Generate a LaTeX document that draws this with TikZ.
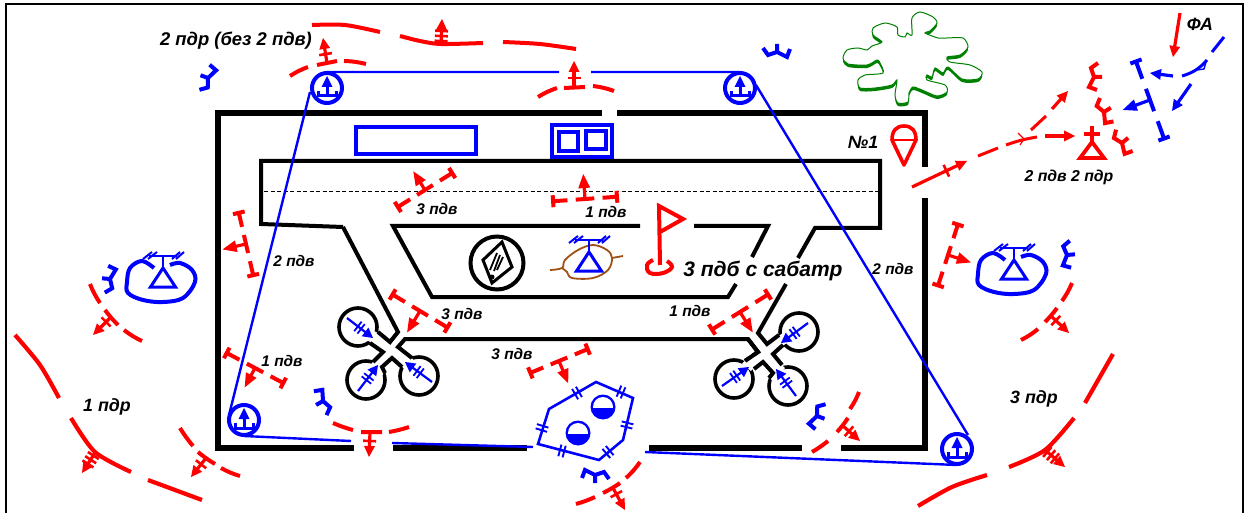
\documentclass[tikz,border=0pt]{standalone}
\usepackage{fontspec}
\setmainfont{Liberation Sans}
\definecolor{dgreen}{RGB}{0,128,0}
\definecolor{brownln}{RGB}{160,80,20}
\tikzset{
 road/.style={black,line width=4pt,line join=miter},
 wall/.style={black,line width=5.5pt},
 rarc/.style={red,line width=4pt},
 bln/.style={blue,line width=2.4pt},
 lbl/.style={inner sep=0pt,font=\bfseries\itshape\fontsize{15.4}{17}\selectfont},
 lblb/.style={inner sep=0pt,font=\bfseries\itshape\fontsize{17.8}{19}\selectfont},
}
\newcommand\ARO[5]{%
 \pgfmathsetmacro\aang{atan2(#3-#5,#4-#2)}\pgfmathsetmacro\alen{veclen(#4-#2,#5-#3)}%
 \begin{scope}[shift={(#2,#3)},rotate=\aang,#1]
 \draw[line width=3.2pt] (0,0)--(\alen-9,0);
 \fill (\alen,0)--(\alen-11,5.5)--(\alen-11,-5.5)--cycle;
 \end{scope}}
\newcommand\ARW[6]{%
 \ARO{#1}{#2}{#3}{#4}{#5}%
 \begin{scope}[shift={(#2,#3)},rotate=\aang,#1]
 \foreach \bb in {#6} {\draw[line width=2.6pt] (\bb,-6.5)--(\bb,6.5);}
 \end{scope}}
\newcommand\LOBE[4]{%
 \pgfmathsetmacro\aang{atan2(#2-#4,#3-#1)}\pgfmathsetmacro\alen{veclen(#3-#1,#4-#2)}%
 \begin{scope}[shift={(#1,#2)},rotate=\aang,blue]
 \draw[line width=2.2pt] (0,0)--(\alen-6,0);
 \fill (\alen,0)--(\alen-10,5.5)--(\alen-10,-5.5)--cycle;
 \draw[line width=1.8pt] (\alen-19,-6)--(\alen-19,6) (\alen-15,-6)--(\alen-15,6);
 \end{scope}}
\newcommand\PDV[6]{%
 \begin{scope}[shift={(#2,#3)},rotate=#4,#1]
 \draw[line width=4pt] (-#5,0)--({-.55*#5},0) ({-.29*#5},0)--({.29*#5},0) ({.55*#5},0)--(#5,0)
   (-#5,-6)--(-#5,6) (#5,-6)--(#5,6);
 \draw[line width=3.2pt] (0,0)--(0,#6-9);
 \fill (0,#6)--(-6,#6-14)--(6,#6-14)--cycle;
 \end{scope}}
\newcommand\FORK[4]{%
 \begin{scope}[shift={(#2,#3)},rotate=#4,#1]
 \draw[line width=4pt,line join=miter] (-14,-4)--(-9,3)--(0,0)--(10,5)--(13,-3) (0,1)--(0,-8);
 \end{scope}}
\newcommand\POST[2]{%
 \begin{scope}[shift={(#1,#2)},blue]
 \draw[line width=4pt] (0,0) circle[radius=15];
 \draw[line width=3pt] (0,-4)--(0,8) (-9,3)--(-9,9.5) (9,3)--(9,9.5);
 \draw[line width=3pt] (-10,8)--(10,8);
 \fill (0,-12)--(-5.5,-1)--(5.5,-1)--cycle;
 \end{scope}}
\newcommand\BTRI[2]{%
 \begin{scope}[shift={(#1,#2)},blue]
 \draw[line width=3pt] (-12.5,19)--(12.5,19)--(0,0)--cycle;
 \draw[line width=2.6pt] (0,0)--(0,-12) (-14,-12)--(14,-12);
 \draw[line width=2pt] (-20,-9)--(-11,-16) (-15,-9)--(-6,-16) (9,-9)--(17,-16) (13,-9)--(21,-16);
 \end{scope}}
\newcommand\COVER[2]{%
 \BTRI{#1}{#2}
 \begin{scope}[shift={(#1-163,#2-268)},blue]
 \draw[line width=4pt] plot[smooth,tension=.6] coordinates {(154,268)(142,261)(130,268)(127,282)(128,293)(143,300)(163,302)(183,298)(195,282)(192,270)(180,263)(170,265)};
 \end{scope}}
\newcommand\DTICK[3]{%
 \begin{scope}[shift={(#1,#2)},rotate=#3,blue]
 \draw[line width=1.9pt] (-2.2,-6)--(-2.2,6) (2.2,-6)--(2.2,6);
 \end{scope}}
\newcommand\HALF[2]{%
 \fill[blue] (#1,#2) circle[radius=12.5];
 \begin{scope}\clip (#1-14,#2-14) rectangle (#1+14,#2);
 \fill[white] (#1,#2) circle[radius=10];
 \end{scope}}
\def\blobpts{(843,58)(847,50)(858,48)(867,50)(872,46)(882,42)(873,35)(873,28)(885,23)(897,27)(898,35)(905,37)(907,33)(912,35)(912,18)(920,12)(933,17)(937,23)(930,31)(925,33)(938,38)(947,38)(963,38)(968,47)(960,55)(947,57)(950,62)(970,65)(982,72)(978,79)(962,79)(948,67)(943,73)(935,68)(932,77)(927,75)(927,80)(945,85)(947,92)(937,96)(922,90)(913,87)(909,93)(908,102)(898,103)(895,95)(897,80)(892,85)(875,88)(860,88)(858,80)(865,75)(883,73)(880,63)(877,60)(867,65)(848,64)}
\begin{document}
\begin{tikzpicture}[x=1pt,y=-1pt]
\useasboundingbox (0,0) rectangle (1245,513);
% frame
\draw[black,line width=2pt] (6,513)--(6,4)--(1243,4)--(1243,513);
% fortification walls
\draw[wall,line join=miter] (354,448)--(218,448)--(218,113)--(602,113);
\draw[wall,line join=miter] (617,113)--(925,113)--(925,167);
\draw[wall,line join=miter] (925,198)--(925,448)--(841,448);
\draw[wall] (393,448)--(527,448) (649,448)--(802,448);
% roads
\draw[road] (343,227)--(261,224)--(261,161)--(880,161)--(880,228)--(815,228)--(798,258);
\draw[black,line width=1pt,dash pattern=on 4pt off 2.5pt] (264,192)--(880,192);
\draw[road] (640,226)--(393,226)--(432,297)--(728,297)--(736,284);
\draw[road] (694,226)--(768,226)--(752,257);
% left hub
\draw[black,line width=3.6pt] (358,327) circle[radius=19] (366,380) circle[radius=19] (419,376) circle[radius=19];
\fill[white] (374,331)--(367,340)--(378,347)--(385,337)--cycle;
\fill[white] (370,365)--(382,376)--(390,363)--(380,355)--cycle;
\fill[white] (405,370)--(415,361)--(404,352)--(395,358)--cycle;
\draw[road] (343,227)--(398,332)--(390,342)--(378,332);
\draw[road] (370,343)--(383,352)--(373,362);
\draw[road] (385,373)--(382,367)--(392,358)--(402,367);
\draw[road] (412,358)--(398,347)--(405,339)--(748,339)--(758,352)--(745,361);
% right hub
\draw[black,line width=3.6pt] (799,332) circle[radius=19] (734,379) circle[radius=19] (788,386) circle[radius=19];
\fill[white] (783,333)--(787,343)--(776,350)--(770,342)--cycle;
\fill[white] (785,368)--(772,381)--(766,368)--(775,359)--cycle;
\fill[white] (742,364)--(751,371)--(760,360)--(751,353)--cycle;
\draw[road] (786,284)--(758,333)--(767,344)--(779,335);
\draw[road] (783,345)--(773,354)--(782,365);
\draw[road] (754,369)--(763,362)--(773,373)--(769,378);
\draw[road] (748,339)--(758,352)--(745,361);
% blue rectangles
\draw[blue,line width=4pt] (356,127) rectangle (476,154);
\draw[blue,line width=4pt] (552,125) rectangle (612,157);
\draw[blue,line width=3.6pt] (559,132) rectangle (578,151) (586,131) rectangle (606,149);
% blue connections
\draw[bln] (327,72)--(559,72) (591,72)--(740,72) (756,85)--(968,435) (957,465)--(645,452);
\draw[bln] (310,92)--(229,415) (244,436)--(351,441) (392,443)--(533,447);
\POST{327}{88}\POST{740}{88}\POST{244}{420}\POST{957}{449}
% green blob
\begin{scope}[shift={(0,3)}]
\fill[dgreen] plot[smooth cycle,tension=.45] coordinates {\blobpts};
\end{scope}
\draw[dgreen,fill=white,line width=1pt] plot[smooth cycle,tension=.45] coordinates {\blobpts};
% fork symbols
\FORK{blue}{777}{52}{0}\FORK{blue}{208}{78}{70}\FORK{blue}{110}{279}{85}\FORK{blue}{1067}{255}{-85}
\FORK{blue}{323}{401}{120}\FORK{blue}{595}{475}{180}\FORK{blue}{817}{416}{-110}
\FORK{red}{1094}{77}{-90}\FORK{red}{1104}{112}{-58}\FORK{red}{1122}{143}{-50}
% red arcs
\draw[rarc] plot[smooth] coordinates {(312,25)(345,25)(380,32)};
\draw[rarc] plot[smooth] coordinates {(400,36)(420,41)(441,44)(483,43)};
\draw[rarc] plot[smooth] coordinates {(503,42)(540,44)(576,49)};
\ARW{red}{441}{44}{442}{19}{3,8,13}
\draw[rarc] (290,76) to[bend left=6] (308,67) (317,65)--(337,61) (344,61) to[bend left=6] (366,64);
\ARW{red}{327}{63}{323}{38}{9}
\draw[rarc] (538,97) to[bend left=6] (557,88) (564,88)--(585,87) (593,86) to[bend left=6] (614,91);
\ARW{red}{574}{87}{574}{61}{9}
\draw[rarc] (90,284) to[bend right=6] (100,303) (105,310) to[bend right=4] (118,325) (124,330) to[bend right=6] (142,341);
\ARW{red}{111}{317}{93}{335}{7}
\draw[rarc,line width=4.2pt] plot[smooth] coordinates {(15,335)(40,365)(59,398)};
\draw[rarc,line width=4.2pt] plot[smooth] coordinates {(71,418)(95,452)(131,472)};
\draw[rarc,line width=4.2pt] (148,480)--(202,500);
\ARW{red}{95}{453}{82}{473}{3,8,13}
\draw[rarc] (180,428) to[bend right=4] (193,446) (198,452) to[bend right=4] (215,464) (221,468) to[bend right=6] (240,476);
\ARW{red}{206}{458}{191}{477}{8}
\draw[rarc] (333,423) to[bend right=4] (353,430) (361,432)--(382,432) (389,432) to[bend right=4] (409,427);
\ARW{red}{370}{432}{369}{457}{9}
\draw[rarc] (576,504) to[bend right=4] (595,497) (603,493) to[bend right=4] (620,483) (626,478) to[bend right=6] (640,462);
\ARW{red}{613}{488}{625}{510}{7}
\draw[rarc] (812,452) to[bend right=4] (828,441) (837,432) to[bend right=4] (848,418) (850,409) to[bend right=6] (859,392);
\ARW{red}{843}{426}{860}{441}{8}
\draw[rarc] (1021,340) to[bend right=6] (1038,329) (1045,322) to[bend right=4] (1057,308) (1062,301) to[bend right=6] (1072,283);
\ARW{red}{1050}{315}{1069}{333}{8}
\draw[rarc,line width=4.2pt] plot[smooth] coordinates {(918,506)(952,487)(987,475)};
\draw[rarc,line width=4.2pt] plot[smooth] coordinates {(1009,467)(1045,450)(1074,418)};
\draw[rarc,line width=4.2pt] (1085,403)--(1113,354);
\ARW{red}{1045}{450}{1065}{467}{3,8,13}
% defence sectors
\PDV{red}{425}{190}{212}{32}{22}
\PDV{red}{585}{199}{184}{32}{25}
\PDV{red}{246}{244}{-77}{32}{24}
\PDV{red}{255}{368}{-28}{32}{22}
\PDV{red}{420}{311}{-31}{32}{25}
\PDV{red}{740}{312}{32}{33}{24}
\PDV{red}{948}{255}{72}{32}{24}
\PDV{red}{559}{361}{22.5}{31}{24}
\PDV{blue}{1150}{100}{-70}{41}{29}
% top right red movement
\ARW{red}{912}{187}{967}{161}{38}
\draw[red,line width=3pt] (978,156)--(998,148) (1006,145) to[bend left=5] (1037,137) (1031,130)--(1046,116);
\ARO{red}{1045}{136}{1075}{136}
\ARO{red}{1052}{109}{1068}{91}
\draw[red,line width=1.2pt] (1018,133)--(1024,139)--(1020,145);
\ARO{red}{1180}{13}{1173}{57}
\draw[red,line width=3.8pt] (1092,142)--(1092,126) (1084,134)--(1100,134);
\draw[red,line width=3.8pt,line join=miter] (1080,158)--(1104,158)--(1092,142)--cycle;
% top right blue movement
\draw[blue,line width=3pt] (1224,37)--(1212,52);
\draw[blue,line width=3pt] (1207,60) to[bend left=16] (1182,76);
\draw[blue,line width=1.4pt] (1197,70)--(1204,69)--(1206,62);
\ARO{blue}{1173}{76}{1150}{73}
\ARO{blue}{1191}{84}{1172}{111}
% hub arrows
\LOBE{347}{318}{373}{338}
\LOBE{358}{391}{378}{365}
\LOBE{432}{382}{405}{362}
\LOBE{808}{323}{781}{343}
\LOBE{722}{386}{749}{367}
\LOBE{796}{396}{776}{369}
% cover symbols
\COVER{163}{268}\COVER{1014}{260}
% inner position
\draw[black,line width=4pt] (497,263) circle[radius=26.5];
\draw[black,line width=3pt,line join=miter] (483,260)--(502,242)--(512,267)--(492,283)--cycle;
\draw[black,line width=1.8pt] (490,270)--(497,253) (494,271)--(500,255) (497,270)--(503,257);
\fill[black] (492,277) circle[radius=2.5];
\draw[brownln,line width=1.8pt] plot[smooth,tension=.6] coordinates {(550,270)(562,268)(565,260)(578,250)(593,245)(607,250)(612,258)(608,270)(593,278)(572,278)(567,272)(562,268)};
\draw[brownln,line width=1.8pt] (612,258)--(623,256);
\BTRI{589}{252}
% flag
\draw[red,line width=4pt,line join=miter] (660,265)--(659,206)--(683,219)--(660,232);
\draw[red,line width=4pt] plot[smooth,tension=.7] coordinates {(653,260)(647,265)(650,273)(663,273)(672,267)(667,261)};
% pin
\draw[red,line width=3.6pt,line join=round] (892,140) .. controls (892,131) and (896,126) .. (904,126) .. controls (912,126) and (916,131) .. (916,140) -- (904,165) -- cycle;
\draw[red,line width=2.6pt] (892,140)--(916,140);
% hexagon
\draw[blue,line width=2.6pt,line join=miter] (549,409)--(596,382)--(633,398)--(623,440)--(599,460)--(538,444)--cycle;
\DTICK{577}{393}{30}\DTICK{621}{392}{-23}\DTICK{627}{425}{76}\DTICK{608}{452}{40}\DTICK{562}{451}{-15}\DTICK{542}{428}{73}
\HALF{603}{407}\HALF{578}{433}
% labels
\node[inner sep=0pt,font=\bfseries\itshape\fontsize{18.4}{20}\selectfont] (t1) at (236,41) {2 пдр (без 2 пдв)};
\node[lbl] (t2) at (437,209) {3 пдв};
\node[lbl] (t3) at (606,212) {1 пдв};
\node[lbl] (t4) at (294,261) {2 пдв};
\node[lbl] (t5) at (282,361) {1 пдв};
\node[lbl] (t6) at (462,314) {3 пдв};
\node[lbl] (t7) at (690,311) {1 пдв};
\node[lbl] (t8) at (512,354) {3 пдв};
\node[lbl] (t9) at (893,269) {2 пдв};
\node[lblb] (t10) at (107,407) {1 пдр};
\node[lblb] (t11) at (1034,399) {3 пдр};
\node[inner sep=0pt,font=\bfseries\itshape\fontsize{21}{23}\selectfont] (t12) at (763,271) {3 пдб с сабатр};
\node[inner sep=0pt,font=\bfseries\itshape\fontsize{15.8}{18}\selectfont] (t13) at (1069,177) {2 пдв 2 пдр};
\node[lblb] (t14) at (863,142) {№1};
\node[lblb] (t15) at (1200,24) {ФА};
\end{tikzpicture}
\end{document}
